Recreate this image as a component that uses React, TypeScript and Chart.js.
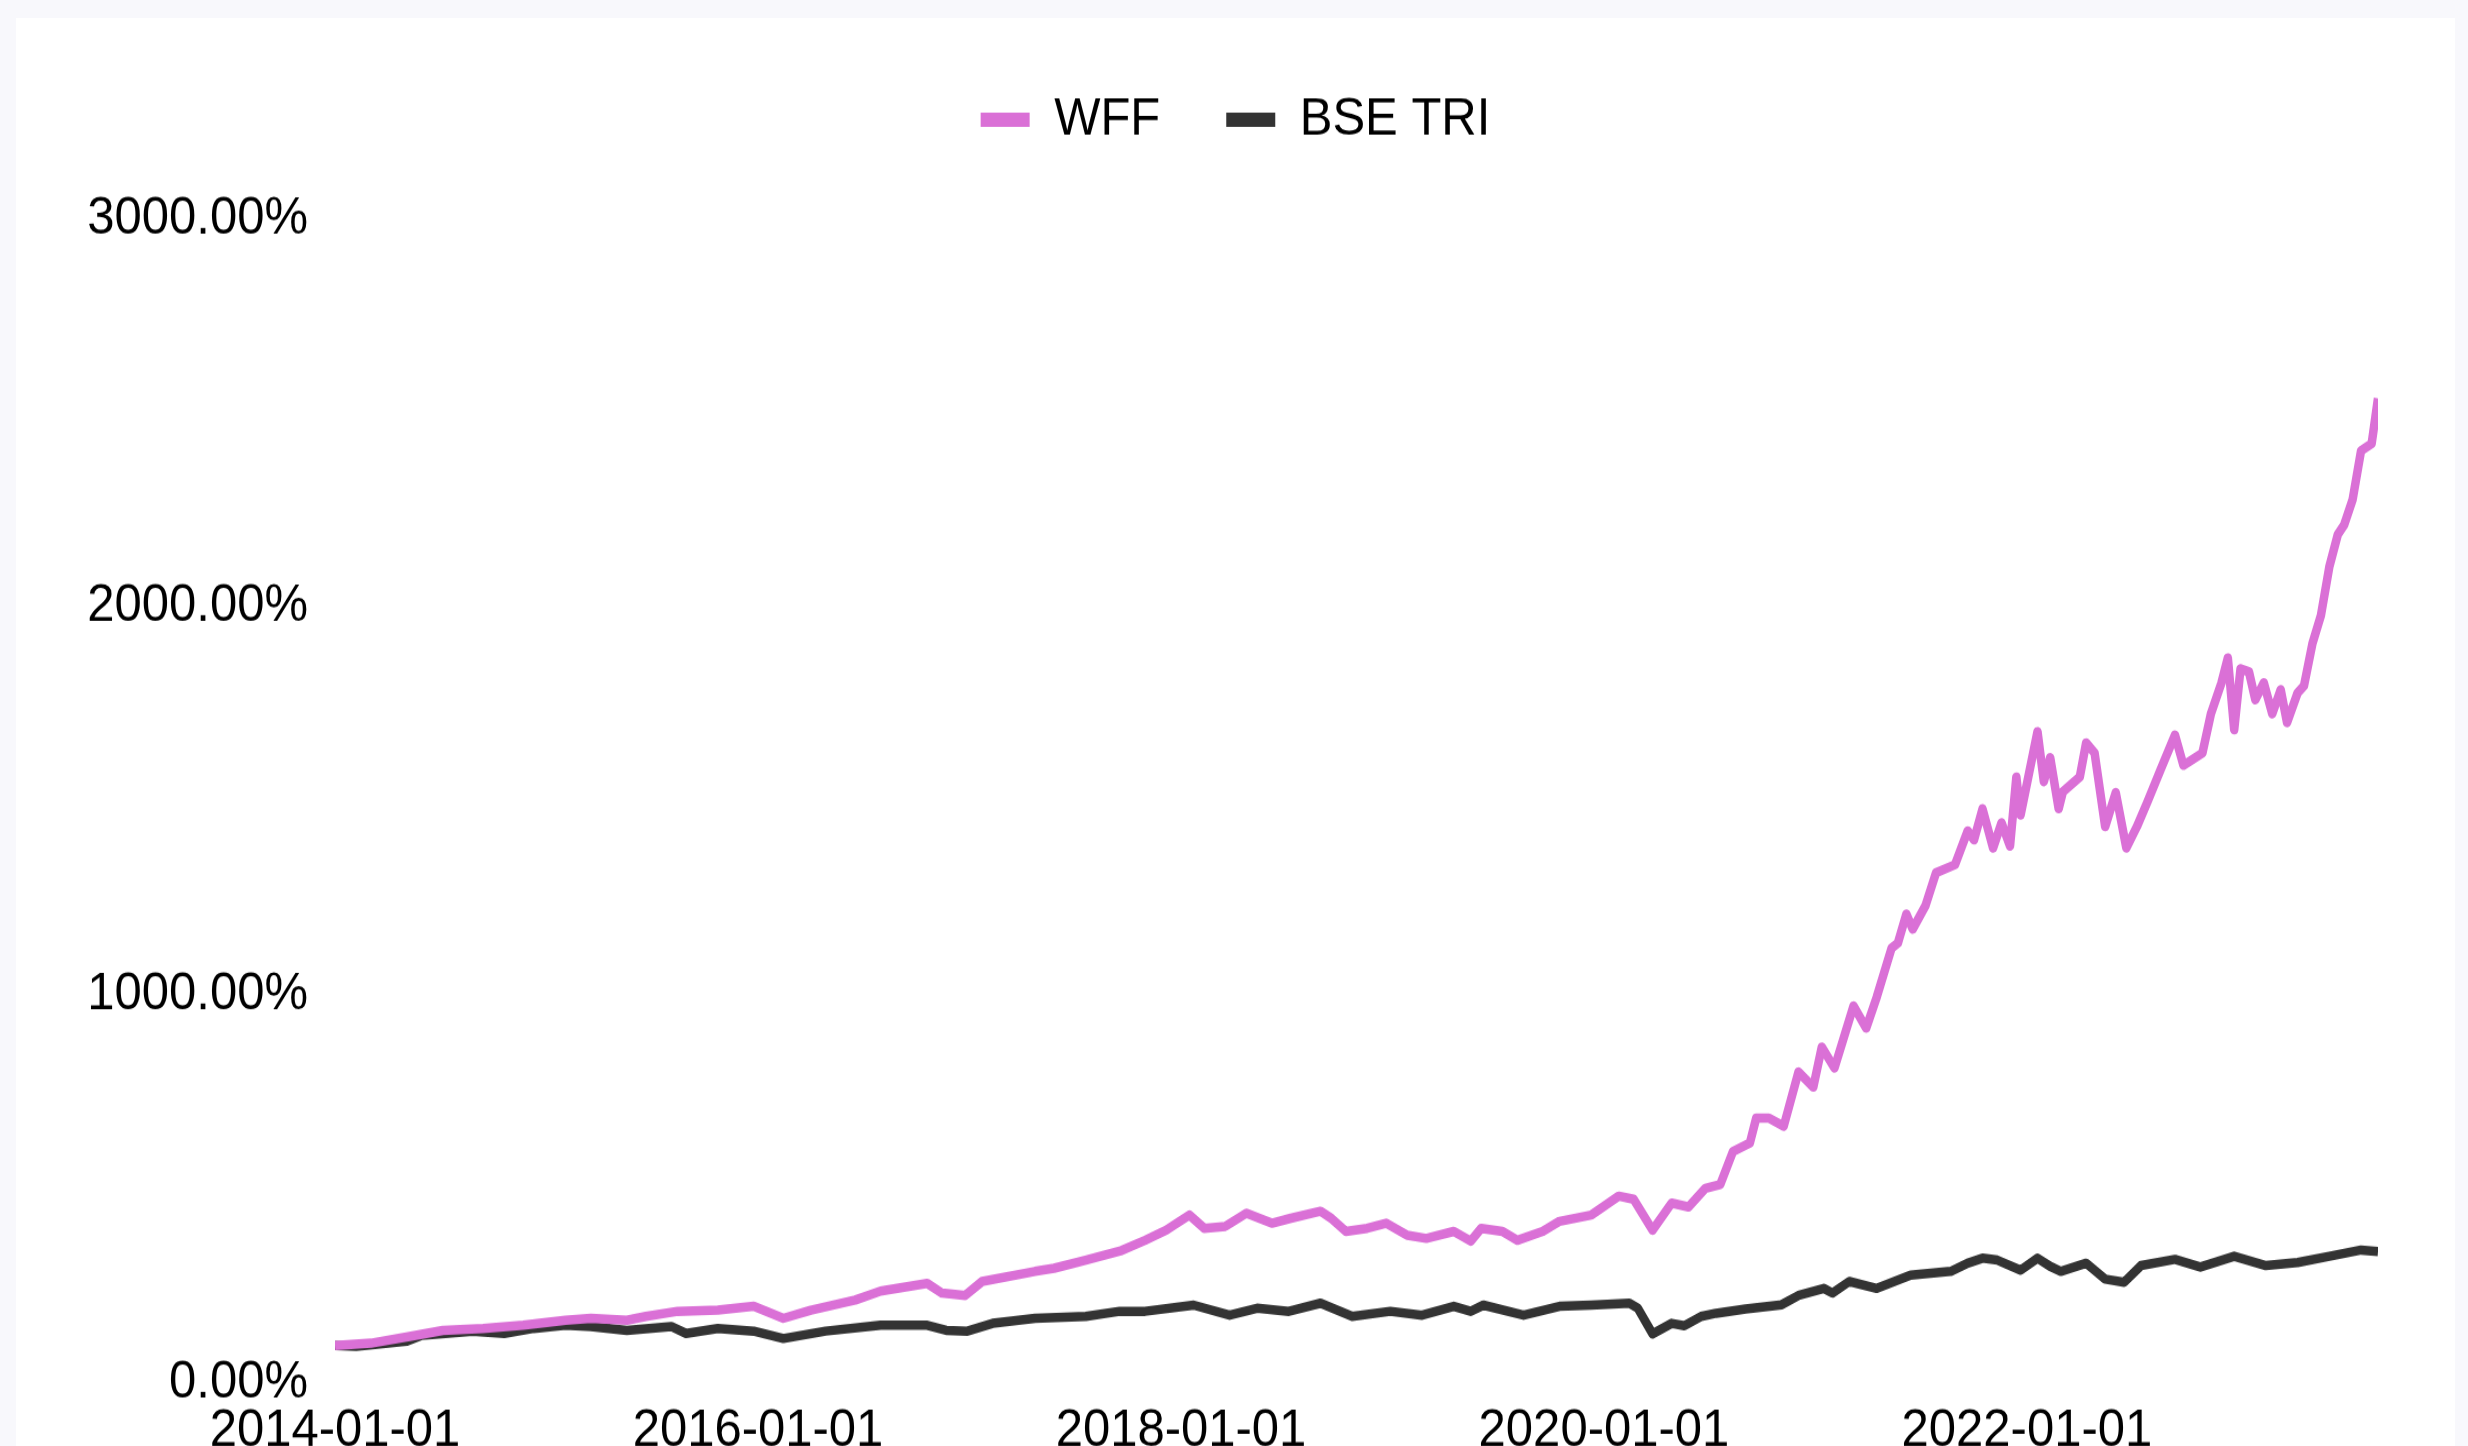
import React, { useEffect, useRef } from 'react';
import { Chart, registerables } from 'chart.js';

Chart.register(...registerables);

// Time axis in decimal years, values in cumulative return %
const wffTime = [
  2014.0, 2014.17, 2014.36, 2014.51, 2014.7, 2014.89, 2015.09, 2015.21, 2015.38, 2015.47,
  2015.62, 2015.81, 2015.98, 2016.12, 2016.25, 2016.46, 2016.58, 2016.8, 2016.87, 2016.98,
  2017.06, 2017.31, 2017.4, 2017.55, 2017.72, 2017.83, 2017.93, 2018.04, 2018.11, 2018.21,
  2018.31, 2018.43, 2018.52, 2018.66, 2018.71, 2018.78, 2018.88, 2018.97, 2019.07, 2019.16,
  2019.29, 2019.37, 2019.42, 2019.52, 2019.59, 2019.71, 2019.79, 2019.94, 2020.07, 2020.14,
  2020.23, 2020.32, 2020.4, 2020.48, 2020.55, 2020.61, 2020.69, 2020.72, 2020.78, 2020.85,
  2020.92, 2020.99, 2021.03, 2021.09, 2021.18, 2021.24, 2021.29, 2021.36, 2021.39, 2021.43,
  2021.46, 2021.52, 2021.57, 2021.66, 2021.72, 2021.75, 2021.79, 2021.84, 2021.88, 2021.92,
  2021.95, 2021.97, 2022.05, 2022.08, 2022.11, 2022.15, 2022.17, 2022.25, 2022.28, 2022.32,
  2022.37, 2022.42, 2022.47, 2022.52, 2022.57, 2022.63, 2022.7, 2022.74, 2022.83, 2022.87,
  2022.92, 2022.95, 2022.98, 2023.01, 2023.05, 2023.08, 2023.12, 2023.16, 2023.2, 2023.23,
  2023.28, 2023.31, 2023.35, 2023.39, 2023.43, 2023.47, 2023.5, 2023.54, 2023.58, 2023.63,
  2023.66,
];
const wffReturn = [
  95, 101, 119, 134, 139, 147, 160, 165, 160, 170,
  183, 186, 196, 165, 186, 212, 235, 255, 230, 224,
  260, 286, 294, 315, 340, 366, 392, 431, 397, 402,
  436, 410, 423, 441, 423, 389, 397, 410, 379, 371,
  389, 364, 397, 389, 366, 389, 415, 431, 480, 472,
  392, 462, 452, 500, 510, 595, 617, 681, 681, 660,
  800, 761, 864, 810, 970, 913, 993, 1119, 1132, 1207,
  1168, 1228, 1313, 1334, 1421, 1398, 1478, 1377, 1442, 1382,
  1560, 1462, 1677, 1548, 1610, 1478, 1522, 1560, 1648, 1622,
  1432, 1520, 1377, 1432, 1496, 1576, 1668, 1590, 1622, 1723,
  1803, 1867, 1682, 1839, 1831, 1759, 1803, 1723, 1785, 1700,
  1777, 1795, 1904, 1976, 2102, 2185, 2210, 2275, 2401, 2419,
  2536,
];
const bseTime = [
  2014.0, 2014.1, 2014.34, 2014.41, 2014.65, 2014.8, 2014.94, 2015.09, 2015.21, 2015.38,
  2015.59, 2015.66, 2015.81, 2015.98, 2016.12, 2016.32, 2016.58, 2016.8, 2016.89, 2016.99,
  2017.11, 2017.31, 2017.55, 2017.71, 2017.83, 2018.06, 2018.23, 2018.36, 2018.51, 2018.66,
  2018.81, 2018.99, 2019.14, 2019.29, 2019.37, 2019.43, 2019.62, 2019.79, 2019.94, 2020.12,
  2020.16, 2020.23, 2020.32, 2020.38, 2020.46, 2020.53, 2020.67, 2020.84, 2020.92, 2021.04,
  2021.08, 2021.16, 2021.29, 2021.45, 2021.64, 2021.72, 2021.79, 2021.86, 2021.97, 2022.05,
  2022.11, 2022.16, 2022.28, 2022.37, 2022.46, 2022.54, 2022.7, 2022.82, 2022.98, 2023.13,
  2023.28, 2023.43, 2023.58, 2023.66,
];
const bseReturn = [
  95, 93, 106, 121, 132, 126, 139, 147, 144, 134,
  144, 126, 139, 132, 113, 132, 147, 147, 134, 132,
  152, 165, 170, 183, 183, 199, 173, 191, 183, 204,
  170, 183, 173, 196, 183, 199, 173, 196, 199, 204,
  191, 125, 152, 146, 170, 178, 189, 200, 224, 242,
  230, 260, 242, 276, 286, 307, 320, 315, 289, 320,
  299, 286, 307, 266, 258, 301, 317, 297, 325, 301,
  309, 325, 341, 337,
];

const seriesNames = ['WFF', 'BSE TRI'];
const seriesColors = ['#DA70D6', '#333333'];
const xTickYears = [2014, 2016, 2018, 2020, 2022];
const yTickValues = [0, 1000, 2000, 3000];

const STRETCH = 1.1;
const CANVAS_W = 2439;
const CANVAS_H = 1329;

export default function App() {
  const ref = useRef<HTMLCanvasElement>(null);

  useEffect(() => {
    const canvas = ref.current;
    if (!canvas) return;
    const font = { family: "'Liberation Sans', Arial, Helvetica, sans-serif", size: 49 };

    const legendSpacer = {
      id: 'legendSpacer',
      beforeInit(chart: any) {
        const lg = chart.legend;
        if (lg) {
          const orig = lg.fit;
          lg.fit = function () {
            orig.call(this);
            this.height += 55;
          };
        }
      },
      afterLayout(chart: any) {
        const lg = chart.legend;
        if (lg) {
          lg.left = 0;
          lg.right = chart.width;
          lg.width = chart.width;
        }
      },
    };

    const chart = new Chart(canvas, {
      type: 'line',
      data: {
        datasets: [
          {
            label: seriesNames[0],
            data: wffTime.map((t, i) => ({ x: t, y: wffReturn[i] })),
            borderColor: seriesColors[0],
            backgroundColor: seriesColors[0],
            borderWidth: 8.5,
            pointRadius: 0,
            tension: 0,
            borderJoinStyle: 'round',
          },
          {
            label: seriesNames[1],
            data: bseTime.map((t, i) => ({ x: t, y: bseReturn[i] })),
            borderColor: seriesColors[1],
            backgroundColor: seriesColors[1],
            borderWidth: 8.5,
            pointRadius: 0,
            tension: 0,
            borderJoinStyle: 'round',
          },
        ],
      },
      options: {
        responsive: false,
        animation: false,
        devicePixelRatio: 1,
        layout: { padding: { left: 0, right: 77, top: 2, bottom: 0 } },
        plugins: {
          tooltip: { enabled: false },
          legend: {
            display: true,
            position: 'top',
            align: 'center',
            labels: {
              font,
              color: '#000',
              boxWidth: 49,
              boxHeight: 13,
              padding: 66,
              generateLabels: (c: any) =>
                (Chart.defaults.plugins.legend.labels.generateLabels as any)(c).map((l: any) => ({
                  ...l,
                  lineWidth: 0,
                })),
            },
          },
        },
        scales: {
          x: {
            type: 'linear',
            min: 2014,
            max: 2023.66,
            grid: { display: false, drawTicks: false },
            border: { display: false },
            afterBuildTicks: (s: any) => {
              s.ticks = xTickYears.map((v) => ({ value: v }));
            },
            ticks: {
              font,
              color: '#000',
              padding: 15,
              maxRotation: 0,
              autoSkip: false,
              callback: (v: any) => `${v}-01-01`,
            },
          },
          y: {
            type: 'linear',
            min: 0,
            max: 3000,
            grid: { display: false, drawTicks: false },
            border: { display: false },
            afterFit: (s: any) => {
              s.width = 319;
            },
            afterBuildTicks: (s: any) => {
              s.ticks = yTickValues.map((v) => ({ value: v }));
            },
            ticks: {
              font,
              color: '#000',
              padding: 27,
              callback: (v: any) => `${Number(v).toFixed(2)}%`,
            },
          },
        },
      },
      plugins: [legendSpacer],
    } as any);

    return () => chart.destroy();
  }, []);

  return (
    <div
      style={{
        position: 'fixed',
        left: 0,
        top: 0,
        width: 2468,
        height: 1446,
        overflow: 'hidden',
        background: '#f8f8fc',
      }}
    >
      <div
        style={{
          position: 'absolute',
          left: 16,
          top: 18,
          width: CANVAS_W,
          height: 1480,
          background: '#ffffff',
        }}
      >
        <canvas
          ref={ref}
          width={CANVAS_W}
          height={CANVAS_H}
          style={{ width: CANVAS_W, height: Math.round(CANVAS_H * STRETCH), display: 'block' }}
        />
      </div>
    </div>
  );
}
